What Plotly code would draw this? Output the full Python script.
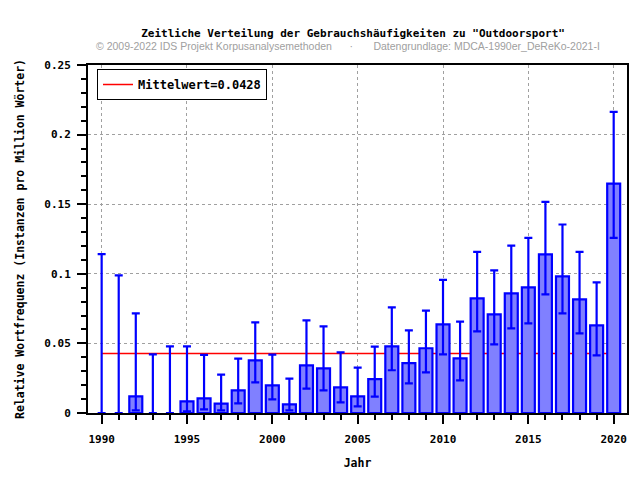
import plotly.graph_objects as go

years = list(range(1990, 2021))
values = [0.0, 0.0, 0.0120, 0.0, 0.0, 0.0084, 0.0105, 0.0067, 0.0163, 0.0378,
          0.0199, 0.0062, 0.0342, 0.0321, 0.0184, 0.0120, 0.0243, 0.0479, 0.0359, 0.0465,
          0.0636, 0.0393, 0.0823, 0.0708, 0.0859, 0.0902, 0.1139, 0.0981, 0.0816, 0.0629,
          0.1648]
upper = [0.1141, 0.0988, 0.0715, 0.0421, 0.0479, 0.0479, 0.0417, 0.0275, 0.0390, 0.0651,
         0.0419, 0.0247, 0.0666, 0.0623, 0.0436, 0.0326, 0.0477, 0.0759, 0.0593, 0.0735,
         0.0957, 0.0656, 0.1158, 0.1024, 0.1203, 0.1258, 0.1517, 0.1354, 0.1158, 0.0938,
         0.2163]
lower = [0.0, 0.0, 0.0019, 0.0, 0.0, 0.0012, 0.0026, 0.0019, 0.0069, 0.0220,
         0.0098, 0.0019, 0.0175, 0.0163, 0.0077, 0.0048, 0.0117, 0.0307, 0.0213, 0.0292,
         0.0421, 0.0235, 0.0586, 0.0493, 0.0608, 0.0644, 0.0852, 0.0715, 0.0572, 0.0414,
         0.1258]
mean_value = 0.0428

title_text = 'Zeitliche Verteilung der Gebrauchshäufigkeiten zu "Outdoorsport"'
subtitle_text = ('© 2009-2022 IDS Projekt Korpusanalysemethoden'
                 '\u00a0\u00a0\u00a0\u00a0\u00a0\u00a0·\u00a0\u00a0\u00a0\u00a0\u00a0\u00a0\u00a0'
                 'Datengrundlage: MDCA-1990er_DeReKo-2021-I')
x_title = "Jahr"
y_title = "Relative Wortfrequenz (Instanzen pro Million Wörter)"
legend_label = "Mittelwert=0.0428"

MONO = "DejaVu Sans Mono"
xr = [1989.2, 2020.78]
yr = [0, 0.25]

fig = go.Figure()

fig.add_trace(go.Scatter(
    x=[years[0], years[-1]], y=[mean_value, mean_value],
    mode="lines", line=dict(color="#ff0000", width=1.5),
    name=legend_label, showlegend=True, xaxis="x", yaxis="y",
))

fig.add_trace(go.Bar(
    x=years, y=values, width=0.76,
    marker=dict(color="#8080ff",
                line=dict(color="#0000ff", width=[2.2 if v > 0 else 0 for v in values])),
    error_y=dict(type="data", symmetric=False,
                 array=[u - v for u, v in zip(upper, values)],
                 arrayminus=[v - l for v, l in zip(values, lower)],
                 color="#0000ff", thickness=2.2, width=4),
    showlegend=False, xaxis="x2", yaxis="y2",
))

axis_font = dict(family=MONO, size=11, color="black", weight="bold")

# page body has an 8px margin, so the figure is 632x472 and offset by 8px
fig.update_layout(
    width=632, height=472,
    margin=dict(l=80, r=13, t=57, b=67, autoexpand=False),
    paper_bgcolor="white", plot_bgcolor="white",
    showlegend=True,
    title=dict(text=title_text, x=0.546, xanchor="center", y=0.947, yanchor="middle",
               font=dict(family=MONO, size=11, color="black", weight="bold")),
    xaxis=dict(
        range=xr, tickmode="linear", tick0=1990, dtick=5, automargin=False,
        ticks="outside", ticklen=9, tickwidth=2, tickcolor="black",
        minor=dict(dtick=1, tick0=1990, ticks="outside", ticklen=5, tickwidth=2, tickcolor="black",
                   showgrid=False),
        showgrid=True, gridcolor="#a0a0a0", griddash="dot", gridwidth=1,
        showline=True, linecolor="black", linewidth=2, mirror=True,
        zeroline=False, tickfont=axis_font, ticklabelstandoff=6,
        title=dict(text=x_title, font=dict(family=MONO, size=11.5, color="black", weight="bold"),
                   standoff=14),
    ),
    yaxis=dict(
        range=yr, automargin=False,
        tickvals=[0, 0.05, 0.1, 0.15, 0.2, 0.25],
        ticktext=["0", "0.05", "0.1", "0.15", "0.2", "0.25"],
        ticks="outside", ticklen=9, tickwidth=2, tickcolor="black",
        minor=dict(dtick=0.01, tick0=0, ticks="outside", ticklen=5, tickwidth=2, tickcolor="black",
                   showgrid=False),
        showgrid=True, gridcolor="#a0a0a0", griddash="dot", gridwidth=1,
        showline=True, linecolor="black", linewidth=2, mirror=True,
        zeroline=False, tickfont=axis_font, ticklabelstandoff=4,
        title=dict(text=y_title, font=dict(family=MONO, size=11.5, color="black", weight="bold"),
                   standoff=17),
    ),
    xaxis2=dict(range=xr, overlaying="x", visible=False, fixedrange=True),
    yaxis2=dict(range=yr, overlaying="y", visible=False, fixedrange=True),
    legend=dict(x=0.0167, y=0.9885, xanchor="left", yanchor="top",
                bgcolor="white", bordercolor="black", borderwidth=1,
                font=dict(family=MONO, size=12, color="black", weight="bold"),
                itemwidth=30),
    annotations=[dict(text=subtitle_text, xref="paper", yref="paper",
                      x=0.482, y=1.0546, xanchor="center", yanchor="middle", showarrow=False,
                      font=dict(family="Liberation Sans", size=10.5, color="#a0a0a0"))],
)

fig.write_html("out.html")
